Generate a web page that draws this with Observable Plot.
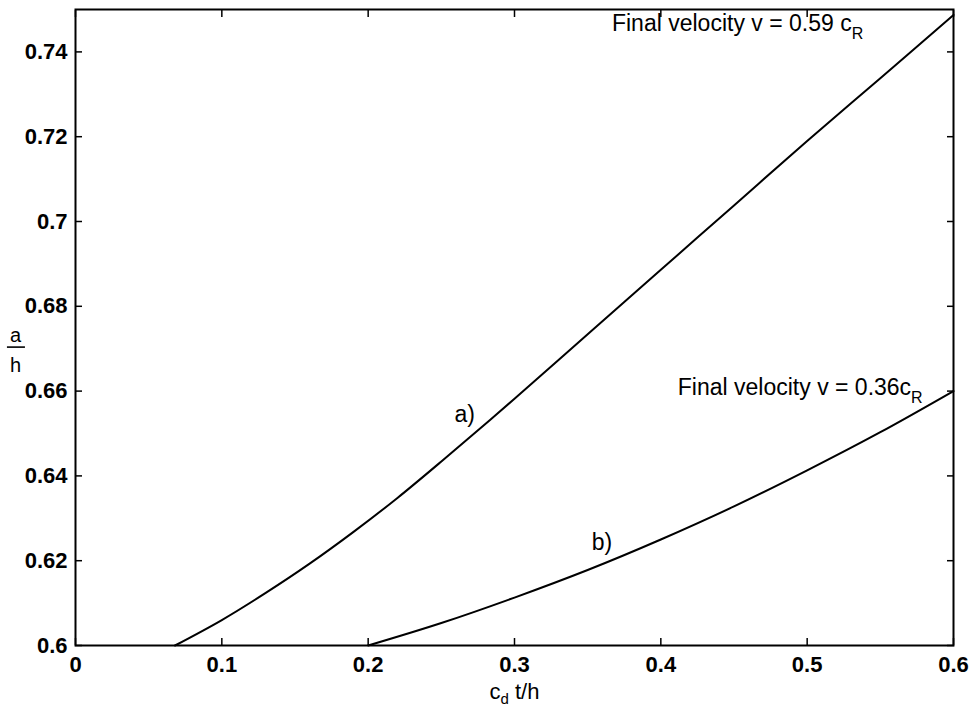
<!DOCTYPE html>
<html>
<head>
<meta charset="utf-8">
<script src="https://cdn.jsdelivr.net/npm/d3@7"></script>
<script src="https://cdn.jsdelivr.net/npm/@observablehq/plot@0.6"></script>
<style>
  html, body { margin: 0; padding: 0; background: #fff; }
  #chart svg { display: block; }
</style>
</head>
<body>
<div id="chart"></div>
<script>
// Tick values
const xTicks = [0, 0.1, 0.2, 0.3, 0.4, 0.5, 0.6];
const yTicks = [0.6, 0.62, 0.64, 0.66, 0.68, 0.7, 0.72, 0.74];

// Curve a) (final velocity 0.59 cR)
const aX = [0.068, 0.1, 0.13, 0.16, 0.19, 0.22, 0.25, 0.3, 0.35, 0.4, 0.45, 0.5, 0.55, 0.6];
const aY = [0.6, 0.6060, 0.6124, 0.6193, 0.6268, 0.6348, 0.6434, 0.6582, 0.6734, 0.6886, 0.7038, 0.7190, 0.7338, 0.7487];

// Curve b) (final velocity 0.36 cR)
const bX = [0.2, 0.25, 0.3, 0.35, 0.4, 0.45, 0.5, 0.55, 0.6];
const bY = [0.6, 0.6053, 0.6113, 0.6178, 0.6250, 0.6328, 0.6413, 0.6503, 0.6600];

// Annotations
const notes = [
  {x: 0.3666, y: 0.7467, text: "Final velocity v = 0.59 c_R"},
  {x: 0.4116, y: 0.6609, text: "Final velocity v = 0.36c_R"}
];
const curveLabels = [
  {x: 0.2659, y: 0.6545, text: "a)"},
  {x: 0.3597, y: 0.6243, text: "b)"}
];
const xLabel = "c_d t/h";
const yLabel = "a\nh";

const seriesA = aX.map((x, i) => ({x, y: aY[i]}));
const seriesB = bX.map((x, i) => ({x, y: bY[i]}));

const chart = Plot.plot({
  width: 975,
  height: 708,
  marginLeft: 75,
  marginRight: 22,
  marginTop: 9,
  marginBottom: 63,
  x: {domain: [0, 0.6]},
  y: {domain: [0.6, 0.75]},
  style: {fontFamily: "'Liberation Sans', Arial, sans-serif", background: "#fff", color: "#000"},
  marks: [
    Plot.axisX(xTicks, {anchor: "bottom", tickSize: -7, tickPadding: 18, fontSize: 22, fontWeight: "bold", strokeWidth: 1.5, tickFormat: d => String(d), label: null}),
    Plot.axisX(xTicks, {anchor: "top", tickSize: -7, strokeWidth: 1.5, tickFormat: () => "", label: null}),
    Plot.axisY(yTicks, {anchor: "left", tickSize: -7, tickPadding: 15, fontSize: 22, fontWeight: "bold", strokeWidth: 1.5, tickFormat: d => String(d), label: null}),
    Plot.axisY(yTicks, {anchor: "right", tickSize: -7, strokeWidth: 1.5, tickFormat: () => "", label: null}),
    Plot.frame({stroke: "#000", strokeWidth: 2}),
    Plot.line(seriesA, {x: "x", y: "y", stroke: "#000", strokeWidth: 2, curve: "catmull-rom"}),
    Plot.line(seriesB, {x: "x", y: "y", stroke: "#000", strokeWidth: 2, curve: "catmull-rom"}),
    Plot.text(notes, {x: "x", y: "y", text: "text", textAnchor: "start", fontSize: 23, fill: "#000"}),
    Plot.text(curveLabels, {x: "x", y: "y", text: "text", textAnchor: "middle", fontSize: 23, fill: "#000"}),
    // x-axis label
    Plot.text([xLabel], {frameAnchor: "bottom", textAnchor: "middle", lineAnchor: "middle", dy: 46, fontSize: 22, fill: "#000"}),
    // y-axis label as an upright fraction a over h
    Plot.text([yLabel], {frameAnchor: "left", textAnchor: "middle", lineAnchor: "middle", dx: -60, dy: 19.6, fontSize: 20, lineHeight: 1.5, fill: "#000"})
  ]
});

document.getElementById("chart").appendChild(chart);

// Turn "_X" into subscripts
d3.select(chart).selectAll("text").each(function() {
  if (this.querySelector("tspan")) return;
  const t = this.textContent;
  if (!t.includes("_")) return;
  const parts = t.split(/_(\w)/);
  const fs = parseFloat(getComputedStyle(this).fontSize) || 23;
  const shift = fs <= 22 ? 5 : Math.round(fs * 0.33);
  const sel = d3.select(this);
  sel.text(null);
  parts.forEach((p, i) => {
    if (p === "") return;
    const ts = sel.append("tspan").text(p);
    if (i % 2 === 1) {
      ts.attr("dy", shift).attr("font-size", Math.round(fs * 0.7));
    } else if (i > 0) {
      ts.attr("dy", -shift);
    }
  });
});

// Fraction bar for the y label, placed from the label's own box
d3.select(chart).selectAll("text").each(function() {
  const spans = this.querySelectorAll("tspan");
  if (spans.length !== 2 || spans[0].textContent !== "a" || spans[1].textContent !== "h") return;
  const b = this.getBBox();
  const cx = b.x + b.width / 2;
  const cy = b.y + b.height * 0.45;
  d3.select(this.parentNode).append("line")
    .attr("transform", this.getAttribute("transform"))
    .attr("x1", cx - 9).attr("x2", cx + 9)
    .attr("y1", cy).attr("y2", cy)
    .attr("stroke", "#000").attr("stroke-width", 1.6);
});
</script>
</body>
</html>
